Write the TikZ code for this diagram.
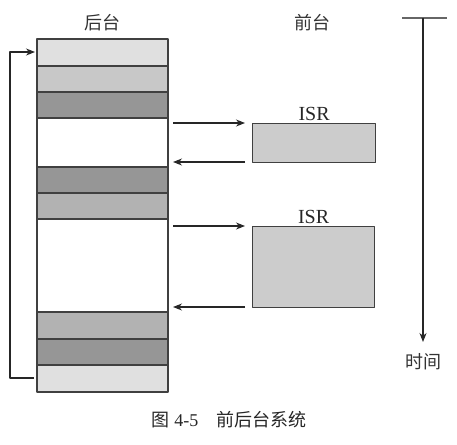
\documentclass[tikz,border=0pt]{standalone}
\usepackage{fontspec}
\setmainfont{Liberation Serif}
\newfontfamily\cjk{Noto Sans CJK SC}
\usetikzlibrary{arrows.meta}

\definecolor{edgegray}{HTML}{404040}
\definecolor{lightband}{HTML}{E0E0E0}
\definecolor{paleband}{HTML}{C8C8C8}
\definecolor{midband}{HTML}{B2B2B2}
\definecolor{darkband}{HTML}{969696}
\definecolor{isrfill}{HTML}{CCCCCC}

\tikzset{
  band/.style={draw=edgegray,line width=1.2pt},
  flow/.style={line width=1.1pt,draw=black!85,-{Stealth[length=9pt,width=7pt]}},
  isrbox/.style={draw=edgegray,fill=isrfill,line width=1.2pt,inner sep=0pt,anchor=north west},
  cjklabel/.style={font=\cjk\fontsize{18}{20}\selectfont,text=black!80},
  isrlabel/.style={font=\fontsize{20}{22}\selectfont,text=black!85}
}

\begin{document}
\begin{tikzpicture}[x=1pt,y=-1pt,line join=round]
  \useasboundingbox (0,0) rectangle (457,444);
  % background task stack
  \foreach \ytop/\ybot/\shade in {39/66/lightband,66/92/paleband,92/118/darkband,
      118/167/white,167/193/darkband,193/219/midband,219/312/white,
      312/339/midband,339/365/darkband,365/392/lightband}
    \filldraw[band,fill=\shade] (37,\ytop) rectangle (168,\ybot);
  \node[cjklabel] (bglabel) at (102,23) {后台};
  \node[cjklabel] (fglabel) at (312,23) {前台};
  % loop back to the top
  \coordinate (loopend) at (34,378);
  \coordinate (loopstart) at (35,52);
  \draw[flow] (loopend) -- (10,378) -- (10,52) -- (loopstart);
  % interrupt service routines
  \node[isrbox,minimum width=123pt,minimum height=39pt] (isrA) at (252,123) {};
  \node[isrbox,minimum width=122pt,minimum height=81pt] (isrB) at (252,226) {};
  \node[isrlabel,above=-1pt] (isrAlabel) at (isrA.north) {ISR};
  \node[isrlabel,above=-1pt] (isrBlabel) at (isrB.north) {ISR};
  \coordinate (outA) at (173,123);
  \coordinate (backA) at (173,162);
  \coordinate (outB) at (173,226);
  \coordinate (backB) at (173,307);
  \draw[flow] (outA) -- ([xshift=-7pt]outA -| isrA.west);
  \draw[flow] ([xshift=-7pt]backA -| isrA.west) -- (backA);
  \draw[flow] (outB) -- ([xshift=-7pt]outB -| isrB.west);
  \draw[flow] ([xshift=-7pt]backB -| isrB.west) -- (backB);
  % time axis
  \coordinate (ttop) at (423,18);
  \coordinate (tend) at (423,342);
  \draw[line width=1.2pt,draw=black!60] (402,18) -- (447,18);
  \draw[flow] (ttop) -- (tend);
  \node[cjklabel] (timelabel) at (423,362) {时间};
  % caption
  \node[font=\fontsize{18}{20}\selectfont,text=black!85] (caption) at (229,420)
    {{\cjk 图} 4-5\hspace{1em}{\cjk 前后台系统}};
\end{tikzpicture}
\end{document}
